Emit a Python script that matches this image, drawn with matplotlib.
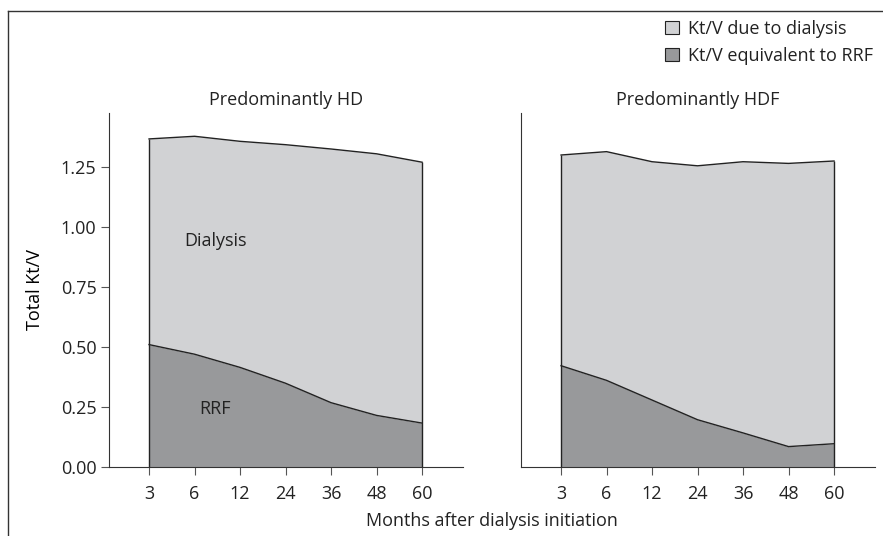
import numpy as np
import matplotlib.pyplot as plt
from matplotlib.patches import Patch
from matplotlib.lines import Line2D

months = ['3', '6', '12', '24', '36', '48', '60']
hd_total = [1.367, 1.378, 1.357, 1.343, 1.325, 1.305, 1.270]
hd_rrf = [0.510, 0.470, 0.415, 0.349, 0.268, 0.215, 0.183]
hdf_total = [1.300, 1.314, 1.272, 1.255, 1.272, 1.265, 1.275]
hdf_rrf = [0.422, 0.361, 0.279, 0.197, 0.142, 0.085, 0.097]
yticks = [0.00, 0.25, 0.50, 0.75, 1.00, 1.25]

light = '#d1d2d4'
dark = '#98999b'

plt.rcParams.update({'font.size': 13, 'font.family': ['Open Sans', 'DejaVu Sans'],
                     'text.color': '#222222', 'xtick.labelcolor': '#222222',
                     'ytick.labelcolor': '#222222'})

fig = plt.figure(figsize=(8.83, 5.36), dpi=100)
ax1 = fig.add_axes([109/883, 1-467/536, 354/883, 354/536])
ax2 = fig.add_axes([521/883, 1-467/536, 354/883, 354/536])

x = np.arange(len(months))

def draw(ax, total, rrf, title):
    total = np.array(total)
    rrf = np.array(rrf)
    ax.fill_between(x, 0, rrf, color=dark, lw=0)
    ax.fill_between(x, rrf, total, color=light, lw=0)
    ax.plot(x, total, color='#222222', lw=1.0)
    ax.plot(x, rrf, color='#222222', lw=1.0)
    ax.vlines([x[0], x[-1]], 0, [total[0], total[-1]], color='#222222', lw=1.0)
    ax.set_xlim(-0.88, 6.9)
    ax.set_ylim(0, 1.475)
    ax.set_xticks(x)
    ax.set_xticklabels(months)
    ax.spines['top'].set_visible(False)
    ax.spines['right'].set_visible(False)
    ax.spines['left'].set_color('#333333')
    ax.spines['bottom'].set_color('#333333')
    ax.tick_params(axis='x', length=6, color='#555555', pad=7)
    ax.set_title(title, fontsize=13, pad=6)

draw(ax1, hd_total, hd_rrf, 'Predominantly HD')
draw(ax2, hdf_total, hdf_rrf, 'Predominantly HDF')

ax1.set_yticks(yticks)
ax1.set_yticklabels(['%.2f' % v for v in yticks])
ax1.tick_params(axis='y', length=6, color='#555555', pad=3)
ax1.set_ylabel('Total Kt/V')
ax1.yaxis.set_label_coords(-0.185, 0.5)
ax2.set_yticks([])

ax1.text(1.45, 0.94, 'Dialysis', ha='center', va='center')
ax1.text(1.45, 0.24, 'RRF', ha='center', va='center')

fig.text(492/883, 1-521/536, 'Months after dialysis initiation', ha='center', va='center')

handles = [Patch(facecolor=light, edgecolor='#222222', lw=0.8),
           Patch(facecolor=dark, edgecolor='#222222', lw=0.8)]
fig.legend(handles, ['Kt/V due to dialysis', 'Kt/V equivalent to RRF'],
           loc='upper right', bbox_to_anchor=(873/883, 1-20/536), frameon=False,
           handlelength=0.75, handleheight=0.75, handletextpad=0.5, labelspacing=0.48,
           borderaxespad=0, borderpad=0)

# frame border (top and left)
fig.add_artist(Line2D([8/883, 1], [1-11/536, 1-11/536], color='#333333', lw=1.0))
fig.add_artist(Line2D([8/883, 8/883], [0, 1-11/536], color='#333333', lw=1.0))

plt.savefig('out.png', dpi=100)
